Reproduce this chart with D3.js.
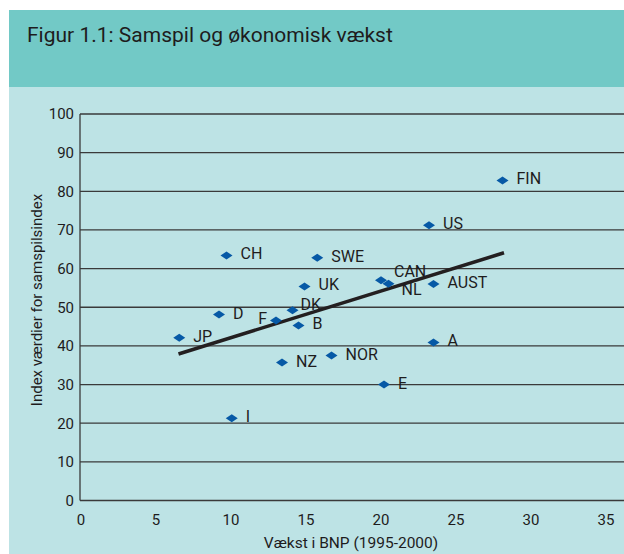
<!DOCTYPE html>
<html lang="da">
	<head>
		<meta charset="UTF-8" />
		<title>Figur 1.1: Samspil og økonomisk vækst</title>
		<script src="https://d3js.org/d3.v7.min.js"></script>
		<style>
			body {
				margin: 0;
				background: #fff;
			}
			svg text {
				font-family: Roboto, "Liberation Sans", sans-serif;
				fill: #1e1c1d;
			}
		</style>
	</head>
	<body>
		<svg width="624" height="554"></svg>

		<script>
			const width = 624;
			const height = 554;

			// Countries, growth in GDP (x) and cooperation index (y)
			const countries = ["FIN", "US", "SWE", "CH", "UK", "CAN", "NL", "AUST", "DK", "D", "F", "B", "JP", "NZ", "NOR", "A", "E", "I"];
			const growth = [28.1, 23.2, 15.75, 9.7, 14.9, 20.0, 20.5, 23.5, 14.1, 9.2, 13.0, 14.5, 6.55, 13.4, 16.7, 23.5, 20.2, 10.05];
			const index = [82.8, 71.2, 62.8, 63.4, 55.4, 57.0, 56.1, 56.0, 49.2, 48.1, 46.6, 45.3, 42.1, 35.7, 37.5, 40.9, 30.0, 21.3];

			// Trend line end points
			const trendX = [6.5, 28.2];
			const trendY = [37.9, 64.1];

			const xTicks = [0, 5, 10, 15, 20, 25, 30, 35];
			const yTicks = [0, 10, 20, 30, 40, 50, 60, 70, 80, 90, 100];

			// label placement tweaks (default: right of the marker)
			const labelNudge = {
				CAN: { dx: 13, dy: -3.5 },
				NL: { dx: 13, dy: 11 },
				DK: { dx: 8, dy: 0 },
				F: { dx: -9, dy: 3.5, anchor: "end" },
			};

			const svg = d3.select("svg");

			// header band + light panel
			svg.append("rect").attr("x", 9).attr("y", 10).attr("width", width - 9).attr("height", 77).attr("fill", "#72c9c6");
			svg.append("rect").attr("x", 9).attr("y", 87).attr("width", width - 9).attr("height", height - 87).attr("fill", "#bde3e5");

			svg
				.append("text")
				.attr("x", 27)
				.attr("y", 42)
				.style("font-size", "21px")
				.text("Figur 1.1: Samspil og økonomisk vækst");

			const x = d3.scaleLinear().domain([0, 35]).range([81, 606]);
			const y = d3.scaleLinear().domain([0, 100]).range([500.5, 114]);

			// gridlines
			svg
				.append("g")
				.selectAll("line")
				.data(yTicks)
				.join("line")
				.attr("x1", 80)
				.attr("x2", width)
				.attr("y1", (d) => y(d))
				.attr("y2", (d) => y(d))
				.attr("stroke", "#3a3a3a")
				.attr("stroke-width", 1.3);

			// y axis line
			svg
				.append("line")
				.attr("x1", 80)
				.attr("x2", 80)
				.attr("y1", y(100))
				.attr("y2", y(0))
				.attr("stroke", "#3a3a3a")
				.attr("stroke-width", 1.3);

			svg
				.append("g")
				.selectAll("text")
				.data(yTicks)
				.join("text")
				.attr("x", 74)
				.attr("y", (d) => y(d))
				.attr("dy", "0.36em")
				.attr("text-anchor", "end")
				.style("font-size", "15px")
				.text((d) => d);

			svg
				.append("g")
				.selectAll("text")
				.data(xTicks)
				.join("text")
				.attr("x", (d) => x(d))
				.attr("y", 525)
				.attr("text-anchor", "middle")
				.style("font-size", "15px")
				.text((d) => d);

			// axis titles
			svg
				.append("text")
				.attr("x", 351)
				.attr("y", 548)
				.attr("text-anchor", "middle")
				.style("font-size", "15.5px")
				.text("Vækst i BNP (1995-2000)");

			svg
				.append("text")
				.attr("transform", "translate(42,300) rotate(-90)")
				.attr("text-anchor", "middle")
				.style("font-size", "15px")
				.text("Index værdier for samspilsindex");

			// trend line
			svg
				.append("line")
				.attr("x1", x(trendX[0]))
				.attr("y1", y(trendY[0]))
				.attr("x2", x(trendX[1]))
				.attr("y2", y(trendY[1]))
				.attr("stroke", "#231f20")
				.attr("stroke-width", 3.5);

			const points = countries.map((c, i) => ({ name: c, gx: growth[i], iy: index[i] }));

			svg
				.append("g")
				.selectAll("path")
				.data(points)
				.join("path")
				.attr("d", "M-6,0L0,-4L6,0L0,4Z")
				.attr("transform", (d) => `translate(${x(d.gx)},${y(d.iy)})`)
				.attr("fill", "#0659a6");

			svg
				.append("g")
				.selectAll("text")
				.data(points)
				.join("text")
				.attr("x", (d) => x(d.gx) + (labelNudge[d.name] ? labelNudge[d.name].dx : 14))
				.attr("y", (d) => y(d.iy) + (labelNudge[d.name] ? labelNudge[d.name].dy : 4))
				.attr("text-anchor", (d) => (labelNudge[d.name] && labelNudge[d.name].anchor) || "start")
				.style("font-size", "16px")
				.text((d) => d.name);
		</script>
	</body>
</html>
